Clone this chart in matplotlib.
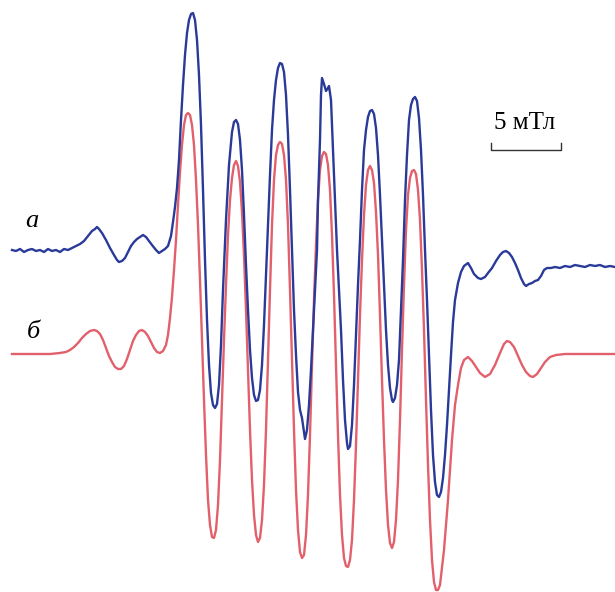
import matplotlib
matplotlib.use("Agg")
import matplotlib.pyplot as plt

a_x = [12, 16, 20, 24, 28, 32, 36, 40, 44, 48, 52, 56, 60, 64, 68, 72, 76, 80, 84, 88,
       92, 95, 97, 99, 102, 106, 110, 114, 117, 119, 122, 125, 128, 131, 134, 137, 140, 143, 146, 149,
       152, 156, 159, 162, 165, 168, 171, 173, 175, 177, 179, 181, 183, 185, 187, 189, 191, 193, 195, 197,
       199, 201, 203, 205, 207, 209, 211, 213, 215, 217, 219, 221, 223, 226, 229, 232, 234, 236, 238, 240,
       242, 244, 246, 248, 250, 252, 254, 256, 258, 260, 262, 264, 266, 268, 270, 272, 274, 276, 278, 280,
       282, 284, 286, 288, 290, 292, 294, 296, 298, 300, 302, 304, 305, 307, 309, 311, 313, 315, 317, 318,
       320, 321, 322, 324, 326, 328, 329, 331, 333, 335, 337, 339, 341, 343, 345, 347, 348, 350, 352, 354,
       356, 358, 360, 362, 364, 366, 368, 370, 372, 374, 376, 378, 380, 382, 384, 386, 388, 390, 392, 393,
       395, 397, 399, 401, 403, 405, 407, 409, 411, 413, 415, 417, 419, 421, 423, 425, 427, 429, 431, 433,
       435, 437, 439, 441, 443, 445, 447, 449, 451, 453, 455, 458, 461, 464, 468, 471, 474, 478, 481, 485,
       488, 492, 496, 500, 503, 506, 509, 512, 515, 518, 521, 524, 526, 529, 532, 535, 538, 541, 544, 547,
       551, 555, 560, 565, 570, 575, 580, 585, 590, 595, 600, 605, 610, 615]
a_y = [250, 251, 249, 252, 250, 249, 251, 250, 252, 249, 251, 250, 252, 249, 250, 248, 246, 244, 241, 236,
       231, 229, 227, 229, 233, 240, 248, 255, 260, 262, 261, 258, 252, 246, 242, 239, 237, 235, 237, 241,
       245, 250, 253, 251, 249, 246, 236, 222, 207, 188, 160, 120, 85, 55, 33, 20, 14, 13, 20, 40,
       75, 125, 190, 260, 320, 365, 393, 405, 408, 404, 385, 345, 290, 220, 165, 132, 122, 120, 124, 140,
       170, 215, 265, 310, 350, 378, 395, 401, 400, 390, 365, 325, 275, 225, 175, 130, 100, 80, 68, 63,
       64, 72, 95, 135, 190, 250, 310, 355, 392, 410, 418, 432, 439, 430, 405, 370, 330, 290, 250, 200,
       140, 95, 78, 84, 91, 88, 86, 100, 150, 200, 250, 290, 330, 380, 420, 443, 449, 446, 425, 385,
       335, 285, 240, 190, 150, 130, 117, 111, 110, 114, 128, 155, 195, 240, 285, 330, 365, 388, 400, 402,
       398, 385, 360, 310, 260, 200, 155, 120, 105, 99, 97, 101, 118, 150, 195, 250, 300, 355, 410, 455,
       482, 495, 497, 492, 478, 455, 425, 390, 355, 322, 300, 283, 272, 266, 263, 268, 274, 278, 279, 277,
       273, 268, 261, 255, 252, 251, 253, 257, 263, 270, 278, 284, 286, 284, 283, 281, 280, 276, 270, 268,
       268, 267, 268, 266, 267, 265, 266, 267, 265, 266, 265, 267, 266, 267]

# spectrum b (simulation)
b_x = [12, 20, 30, 40, 50, 60, 66, 70, 74, 78, 82, 86, 90, 94, 97, 100, 103, 106, 109, 112,
       115, 118, 121, 124, 127, 130, 133, 136, 139, 142, 145, 148, 151, 154, 157, 160, 163, 166, 168, 170,
       172, 174, 176, 178, 180, 182, 184, 186, 188, 190, 192, 194, 196, 198, 200, 202, 204, 206, 208, 210,
       212, 214, 216, 218, 220, 222, 224, 226, 228, 230, 232, 234, 236, 238, 240, 242, 244, 246, 248, 250,
       252, 254, 256, 258, 260, 262, 264, 266, 268, 270, 272, 274, 276, 278, 280, 282, 284, 286, 288, 290,
       292, 294, 296, 298, 300, 302, 304, 306, 308, 310, 312, 314, 316, 318, 320, 322, 324, 326, 328, 330,
       332, 334, 336, 338, 340, 342, 344, 346, 348, 350, 352, 354, 356, 358, 360, 362, 364, 366, 368, 370,
       372, 374, 376, 378, 380, 382, 384, 386, 388, 390, 392, 394, 396, 398, 400, 402, 404, 406, 408, 410,
       412, 414, 416, 418, 420, 422, 424, 426, 428, 430, 432, 434, 436, 438, 440, 444, 448, 452, 455, 458,
       461, 464, 468, 472, 476, 480, 485, 490, 495, 500, 504, 507, 510, 514, 518, 522, 526, 530, 533, 537,
       541, 545, 550, 556, 565, 580, 600, 615]
b_y = [354, 354, 354, 354, 354, 353, 352, 350, 347, 343, 338, 334, 331, 330, 331, 334, 340, 348, 356, 362,
       367, 369, 369, 366, 359, 350, 341, 335, 331, 330, 332, 336, 342, 348, 352, 353, 351, 345, 335, 318,
       297, 270, 240, 205, 172, 145, 125, 115, 113, 115, 125, 145, 180, 225, 280, 340, 400, 455, 500, 525,
       537, 538, 530, 505, 460, 400, 340, 285, 235, 200, 178, 165, 161, 166, 182, 212, 255, 310, 370, 430,
       480, 515, 535, 542, 538, 520, 485, 430, 360, 290, 225, 180, 155, 145, 142, 144, 155, 180, 225, 290,
       360, 430, 490, 530, 552, 558, 555, 535, 495, 435, 365, 300, 245, 200, 170, 156, 152, 154, 165, 190,
       235, 295, 365, 435, 495, 535, 558, 566, 567, 560, 540, 500, 445, 380, 315, 260, 215, 185, 170, 166,
       170, 183, 212, 255, 315, 380, 440, 490, 525, 543, 548, 542, 520, 480, 420, 350, 285, 230, 195, 178,
       171, 170, 174, 190, 220, 270, 330, 400, 465, 520, 560, 582, 590, 590, 585, 550, 500, 440, 405, 385,
       368, 360, 357, 361, 367, 373, 377, 374, 365, 353, 344, 341, 342, 347, 356, 365, 372, 376, 377, 374,
       368, 362, 357, 355, 354, 354, 354, 354]

fig = plt.figure(figsize=(6.15, 5.92), dpi=100)
ax = fig.add_axes([0, 0, 1, 1])

ax.plot(b_x, b_y, color="#e2606b", lw=1.7, solid_joinstyle="round")
ax.plot(a_x, a_y, color="#2a3a98", lw=1.7, solid_joinstyle="round")

# curve labels
ax.text(32, 221, "а", fontsize=19, family="Liberation Serif", style="italic",
        ha="center", va="center")
ax.text(33, 332, "б", fontsize=19, family="Liberation Serif", style="italic",
        ha="center", va="center")

# scale bar
ax.plot([491, 491, 561, 561], [143, 150, 150, 143], color="#333333", lw=1.0)
ax.text(525, 123, "5 мТл", fontsize=18, family="Liberation Serif",
        ha="center", va="center")

ax.set_xlim(0, 615)
ax.set_ylim(592, 0)
ax.axis("off")

fig.savefig("out.png", dpi=100)
